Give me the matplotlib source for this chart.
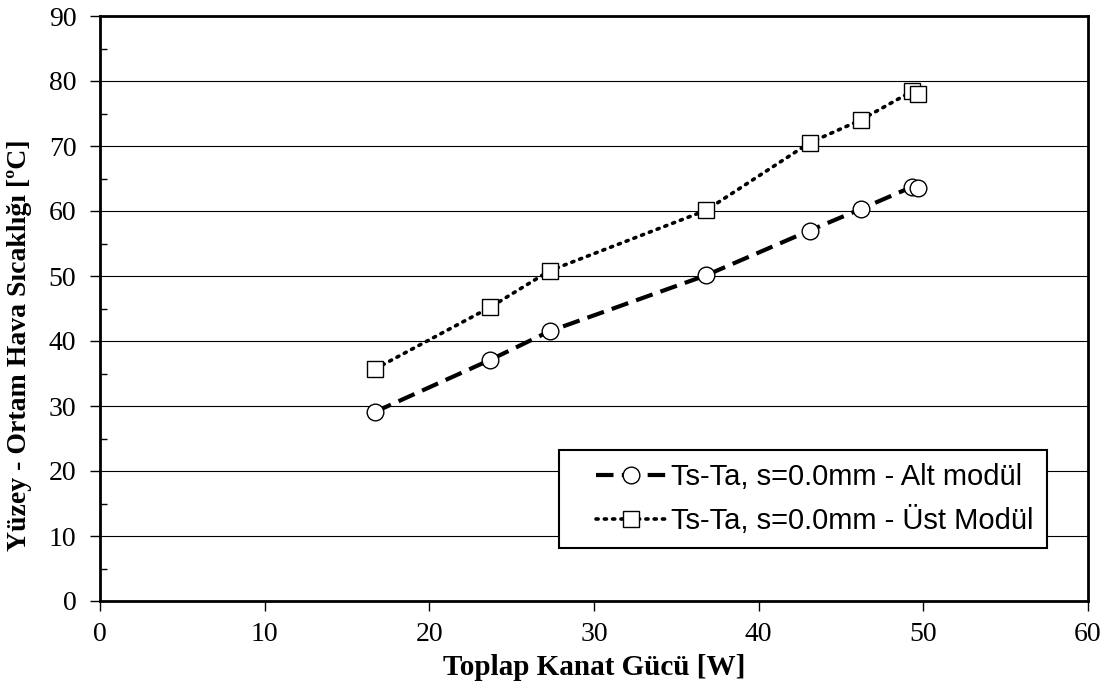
import matplotlib
matplotlib.use("Agg")
import matplotlib.pyplot as plt
from matplotlib.ticker import MultipleLocator
from matplotlib.legend_handler import HandlerLine2D

power = [16.7, 23.7, 27.3, 36.8, 43.1, 46.2, 49.3, 49.7]
alt_modul = [29.1, 37.1, 41.5, 50.1, 57.0, 60.3, 63.7, 63.6]
ust_modul = [35.7, 45.2, 50.8, 60.1, 70.5, 74.0, 78.4, 78.0]

label_alt = "Ts-Ta, s=0.0mm - Alt modül"
label_ust = "Ts-Ta, s=0.0mm - Üst Modül"

fig = plt.figure(figsize=(11.13, 6.82), dpi=100)
ax = fig.add_axes([100/1113, 1 - 601/682, 988/1113, 585/682])

l1, = ax.plot(power, alt_modul, linestyle=(0, (4.2, 2)), color="black", lw=3,
              marker="o", markersize=12, markerfacecolor="white",
              markeredgecolor="black", markeredgewidth=1.0, label=label_alt, zorder=3)
l2, = ax.plot(power, ust_modul, linestyle=(0, (0.6, 1.7)), color="black", lw=2.6,
              dash_capstyle="round",
              marker="s", markersize=11.5, markerfacecolor="white",
              markeredgecolor="black", markeredgewidth=1.0, label=label_ust, zorder=3)

ax.set_xlim(0, 60)
ax.set_ylim(0, 90)
ax.xaxis.set_major_locator(MultipleLocator(10))
ax.yaxis.set_major_locator(MultipleLocator(10))
ax.yaxis.set_minor_locator(MultipleLocator(5))
ax.grid(axis="y", which="major", color="black", lw=0.8, zorder=0)

for sp in ax.spines.values():
    sp.set_linewidth(2)

ax.tick_params(axis="both", which="major", direction="out", length=7, width=1,
               labelsize=20)
ax.tick_params(axis="y", which="major", pad=10)
ax.tick_params(axis="x", which="major", pad=8)
ax.tick_params(axis="y", which="minor", direction="in", length=5, width=1)
for lab in ax.get_xticklabels() + ax.get_yticklabels():
    lab.set_fontfamily("Liberation Serif")

ax.set_xlabel("Toplap Kanat Gücü [W]", fontfamily="Liberation Serif",
              fontweight="bold", fontsize=21, labelpad=5)
ax.set_ylabel("Yüzey - Ortam Hava Sıcaklığı [ºC]", fontfamily="Liberation Serif",
              fontweight="bold", fontsize=20)
ax.yaxis.set_label_coords(-0.0688, 0.4376)

leg = ax.legend(loc="lower right", bbox_to_anchor=(0.958, 0.0906),
                borderaxespad=0, fancybox=False, frameon=True,
                prop={"family": "Liberation Sans", "size": 21},
                handlelength=3.2, handletextpad=0.17, borderpad=0.45,
                labelspacing=0.5,
                handler_map={l1: HandlerLine2D(xpad=0.8), l2: HandlerLine2D(xpad=0.8)})
leg.get_frame().set_edgecolor("black")
leg.get_frame().set_linewidth(1.5)
leg.get_frame().set_alpha(1)

fig.savefig("out.png", dpi=100)
